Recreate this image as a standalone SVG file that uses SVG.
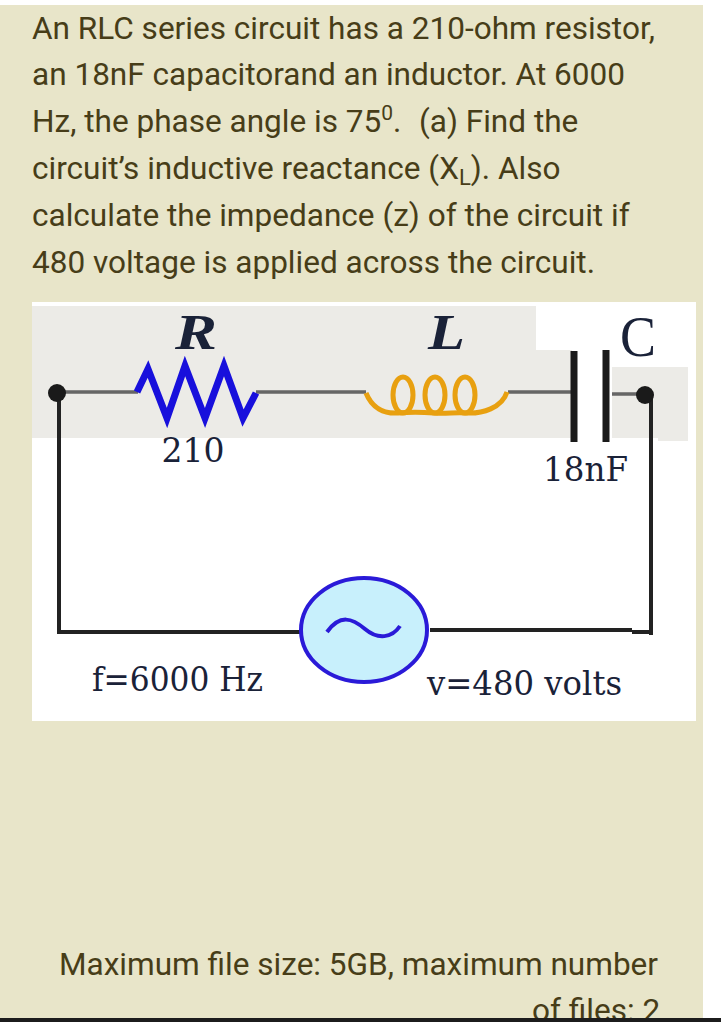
<svg xmlns="http://www.w3.org/2000/svg" width="721" height="1022" viewBox="0 0 721 1022">
<style>
.q{font-family:Roboto,"Liberation Sans",sans-serif;font-size:31.55px;fill:#473d18}
.s{font-family:"DejaVu Serif","Liberation Serif",serif;fill:#1a2238;font-size:33px}
.t{font-family:"Liberation Serif",serif;fill:#1a2238}
.i{font-size:50px;font-weight:bold;font-style:italic}
.w{fill:none;stroke:#222;stroke-width:4}
.g{fill:none;stroke:#666;stroke-width:3.5}
.d{fill:#1a1a1a}
.c{fill:none;stroke:#e8a010;stroke-width:5}
</style>
<rect width="721" height="1022" fill="#fff"/>
<rect x="0" y="5" width="703" height="1017" fill="#e8e5c9"/>
<g id="question">
<text class="q" x="32" y="39">An RLC series circuit has a 210-ohm resistor,</text>
<text class="q" x="32" y="85" textLength="593">an 18nF capacitorand an inductor. At 6000</text>
<text class="q" x="32" y="132">Hz, the phase angle is 75<tspan font-size="21" dy="-12">0</tspan><tspan dy="12">.</tspan><tspan x="419">(a) Find the</tspan></text>
<text class="q" x="32" y="179">circuit’s inductive reactance (X<tspan font-size="22" dy="6">L</tspan><tspan dy="-6">). Also</tspan></text>
<text class="q" x="32" y="226">calculate the impedance (z) of the circuit if</text>
<text class="q" x="32" y="273">480 voltage is applied across the circuit.</text>
<text class="q" x="59" y="975">Maximum file size: 5GB, maximum number</text>
<text class="q" x="532" y="1021">of files: 2</text>
</g>
<rect id="bottom-bar" x="0" y="1018" width="721" height="4" fill="#1c1c1c"/>
<g id="figure-background">
<rect x="32" y="302" width="664" height="419" fill="#fff"/>
<path d="M32 306H536V350H572V438H32Z" fill="#ecebe7"/>
<path d="M612 367H688V441H658V438H612Z" fill="#ecebe7"/>
</g>
<g id="connectors">
<path class="g" d="M58 392H138M256 392H366M508 392H572M612 394H650"/>
<path class="w" d="M59 394V632H300M430 630H632M632 632H651M651 396V635"/>
</g>
<g id="resistor">
<path d="M137 392L148 369L167 418L185 366L205 418L224 366L243 418L256 393" fill="none" stroke="#1810dc" stroke-width="7"/>
<text class="t i" x="175" y="349" textLength="42" lengthAdjust="spacingAndGlyphs">R</text>
<text class="s" x="193" y="462" text-anchor="middle">210</text>
<circle class="d" cx="57" cy="393" r="9"/>
</g>
<g id="inductor">
<path class="c" d="M366 393C372 408 384 414 398 413C410 412 420 412 434 413C446 414 456 412 466 413C482 414 502 408 507 392"/>
<ellipse class="c" cx="403" cy="395" rx="10" ry="18"/>
<ellipse class="c" cx="435" cy="395" rx="10" ry="18"/>
<ellipse class="c" cx="465" cy="395" rx="10" ry="18"/>
<text class="t i" x="428" y="349" textLength="37" lengthAdjust="spacingAndGlyphs">L</text>
</g>
<g id="capacitor">
<path d="M574 351V442M606 350V442" fill="none" stroke="#1a1a1a" stroke-width="7"/>
<text class="t" x="638" y="356" font-size="56" text-anchor="middle" textLength="36" lengthAdjust="spacingAndGlyphs">C</text>
<text class="s" x="543" y="481" textLength="85" lengthAdjust="spacingAndGlyphs">18nF</text>
<circle class="d" cx="645" cy="395" r="9"/>
</g>
<g id="source">
<ellipse cx="364" cy="630" rx="63" ry="52" fill="#c8f0fc" stroke="#2a1ad8" stroke-width="4"/>
<path d="M327 632C340 614 352 618 365 629C378 640 392 638 400 626" fill="none" stroke="#2a1ad8" stroke-width="4"/>
<text class="s" x="92" y="691" textLength="171" lengthAdjust="spacingAndGlyphs">f=6000 Hz</text>
<text class="s" x="427" y="695" textLength="195" lengthAdjust="spacingAndGlyphs">v=480 volts</text>
</g>
</svg>
